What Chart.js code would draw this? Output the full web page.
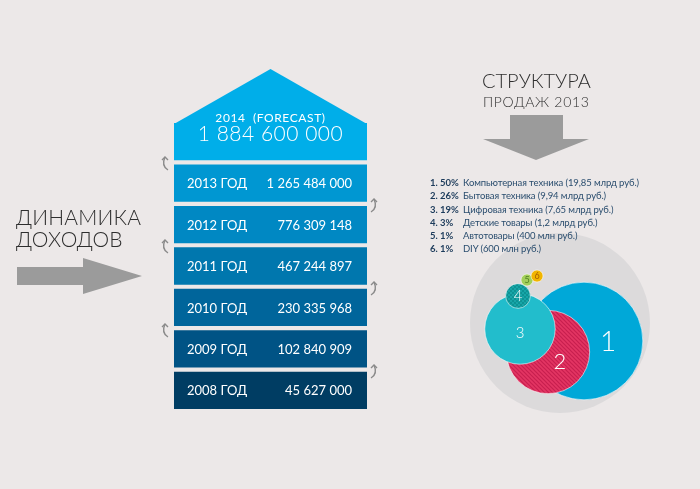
<!DOCTYPE html>
<html>
<head>
<meta charset="utf-8">
<script src="https://cdn.jsdelivr.net/npm/chart.js@4.4.0/dist/chart.umd.min.js"></script>
<style>
  body { margin: 0; background: #ece8e8; }
  #wrap { position: relative; width: 700px; height: 489px; overflow: hidden; font-family: Lato, "Open Sans", sans-serif; }
  canvas { position: absolute; left: 0; top: 0; }
  .title { position: absolute; color: #2e2e2e; font-weight: 300; white-space: nowrap; }
  #legend { position: absolute; left: 430px; top: 176px; font-size: 9.5px; line-height: 13.3px; color: #2a4d6e; white-space: nowrap; letter-spacing: -0.1px; }
  #legend b { display: inline-block; width: 33px; color: #1b3a5a; font-weight: 700; letter-spacing: 0; }
</style>
</head>
<body>
<div id="wrap">
  <canvas id="house" width="700" height="489"></canvas>
  <canvas id="bubbles" width="700" height="489"></canvas>
  <div class="title" style="left:16px; top:206px; font-size:21px; line-height:22px; letter-spacing:0.2px">ДИНАМИКА<br>ДОХОДОВ</div>
  <div class="title" style="left:482px; top:70px; font-size:20px; line-height:20px; letter-spacing:0">СТРУКТУРА</div>
  <div class="title" style="left:483px; top:95px; font-size:14px; line-height:14px; letter-spacing:0.7px">ПРОДАЖ 2013</div>
  <div id="legend"></div>
</div>
<script>
// income by year (top row is the forecast)
const years = ['2014', '2013', '2012', '2011', '2010', '2009', '2008'];
const income = [1884600000, 1265484000, 776309148, 467244897, 230335968, 102840909, 45627000];

// sales structure 2013
const shares = [50, 26, 19, 3, 1, 1];
const categories = ['Компьютерная техника', 'Бытовая техника', 'Цифровая техника', 'Детские товары', 'Автотовары', 'DIY'];
const amounts = ['19,85 млрд руб.', '9,94 млрд руб.', '7,65 млрд руб.', '1,2 млрд руб.', '400 млн руб.', '600 млн руб.'];

const rowColors = ['#00aee9', '#0097d2', '#0088c3', '#0077ae', '#00659b', '#005385', '#003d63'];
const bubbleColors = ['#00a8d8', '#e02c5c', '#22bdcc', '#14a2a4', '#a3cf5a', '#f1b500'];
const labelColors = ['#fff', '#fff', '#fff', '#fff', '#4f7f22', '#a85f00'];

// where each bubble sits in the cluster, and its label offset / font size
const bubbleLayout = [
  { x: 584, y: 341, lx: 24, ly: 1, font: 28 },
  { x: 548, y: 352, lx: 12, ly: 10, font: 22 },
  { x: 520, y: 329, lx: 0, ly: 4, font: 15 },
  { x: 518, y: 296, lx: 0, ly: 0, font: 15 },
  { x: 527, y: 280, lx: 0, ly: 0, font: 9 },
  { x: 537, y: 276, lx: 0, ly: 0, font: 9 }
];

const fmt = v => String(v).replace(/\B(?=(\d{3})+(?!\d))/g, ' ');
const radius = s => 8.7 * Math.sqrt(s) - 2.7;

function stripes(base, line) {
  const c = document.createElement('canvas');
  c.width = c.height = 4;
  const g = c.getContext('2d');
  g.fillStyle = base;
  g.fillRect(0, 0, 4, 4);
  g.strokeStyle = line;
  g.lineWidth = 1.2;
  g.beginPath();
  g.moveTo(-1, -1); g.lineTo(5, 5);
  g.moveTo(-1, 3); g.lineTo(1, 5);
  g.moveTo(3, -1); g.lineTo(5, 1);
  g.stroke();
  return g.createPattern(c, 'repeat');
}

function checker(base, dot) {
  const c = document.createElement('canvas');
  c.width = c.height = 4;
  const g = c.getContext('2d');
  g.fillStyle = base;
  g.fillRect(0, 0, 4, 4);
  g.fillStyle = dot;
  g.fillRect(0, 0, 2, 2);
  g.fillRect(2, 2, 2, 2);
  return g.createPattern(c, 'repeat');
}

const bubbleFills = bubbleColors.slice();
bubbleFills[1] = stripes('#e33563', '#c81f4f');
bubbleFills[3] = checker('#17a6a8', '#0e9294');

const housePlugin = {
  id: 'house',
  afterDatasetsDraw(chart) {
    const ctx = chart.ctx;
    const bars = chart.getDatasetMeta(0).data;
    const roof = bars[0];
    const top = roof.y - roof.height / 2;
    const left = roof.base, right = roof.x, mid = (left + right) / 2;
    ctx.save();
    ctx.fillStyle = rowColors[0];
    ctx.beginPath();
    ctx.moveTo(left, top + 1);
    ctx.lineTo(mid, top - 54);
    ctx.lineTo(right, top + 1);
    ctx.closePath();
    ctx.fill();

    ctx.fillStyle = '#fff';
    ctx.textAlign = 'center';
    ctx.textBaseline = 'alphabetic';
    ctx.font = '12px Lato';
    ctx.letterSpacing = '0.6px';
    ctx.fillText(years[0] + '  (FORECAST)', mid, top - 1);
    ctx.font = '300 21px Lato';
    ctx.letterSpacing = '0.5px';
    ctx.fillText(fmt(income[0]), mid, top + 18);

    ctx.letterSpacing = '0px';
    ctx.font = '13px Lato';
    ctx.textBaseline = 'middle';
    bars.forEach((b, i) => {
      if (i === 0) return;
      ctx.textAlign = 'left';
      ctx.fillText(years[i] + ' ГОД', left + 13, b.y + 1);
      ctx.textAlign = 'right';
      ctx.fillText(fmt(income[i]), right - 15, b.y + 1);
    });
    ctx.restore();
  }
};

new Chart(document.getElementById('house').getContext('2d'), {
  type: 'bar',
  data: {
    labels: years,
    datasets: [{
      data: years.map(() => [0, 1]),
      backgroundColor: rowColors,
      borderWidth: 0,
      borderSkipped: false,
      categoryPercentage: 1,
      barPercentage: 0.9
    }]
  },
  options: {
    indexAxis: 'y',
    responsive: false,
    animation: false,
    events: [],
    layout: { padding: { left: 174, right: 333, top: 121, bottom: 78 } },
    plugins: { legend: { display: false }, tooltip: { enabled: false } },
    scales: {
      x: { min: 0, max: 1, display: false },
      y: { display: false }
    }
  },
  plugins: [housePlugin]
});

function hook(ctx, x, y, flip) {
  ctx.save();
  ctx.translate(x, y);
  if (flip) ctx.scale(-1, 1);
  ctx.strokeStyle = '#8a8a8a';
  ctx.lineWidth = 1.4;
  ctx.beginPath();
  ctx.moveTo(4, 7);
  ctx.quadraticCurveTo(-3, 3, 1, -6);
  ctx.stroke();
  ctx.beginPath();
  ctx.moveTo(-2, -3);
  ctx.lineTo(1, -6);
  ctx.lineTo(4, -3);
  ctx.stroke();
  ctx.restore();
}

const decorPlugin = {
  id: 'decor',
  beforeDatasetsDraw(chart) {
    const ctx = chart.ctx;
    ctx.save();
    ctx.fillStyle = '#9b9b9b';
    ctx.beginPath();
    [[17, 267], [83, 267], [83, 258], [142, 276], [83, 294], [83, 285], [17, 285]]
      .forEach((p, i) => i ? ctx.lineTo(p[0], p[1]) : ctx.moveTo(p[0], p[1]));
    ctx.closePath();
    ctx.fill();
    ctx.beginPath();
    [[510, 115], [563, 115], [563, 139], [589, 139], [536, 160], [483, 139], [510, 139]]
      .forEach((p, i) => i ? ctx.lineTo(p[0], p[1]) : ctx.moveTo(p[0], p[1]));
    ctx.closePath();
    ctx.fill();
    ctx.restore();
    [163, 246, 330].forEach(y => hook(ctx, 164, y, false));
    [205, 288, 371].forEach(y => hook(ctx, 375, y, true));
  },
  afterDatasetsDraw(chart) {
    const ctx = chart.ctx;
    const pts = chart.getDatasetMeta(0).data;
    ctx.save();
    ctx.textAlign = 'center';
    ctx.textBaseline = 'middle';
    pts.forEach((p, i) => {
      const l = bubbleLayout[i];
      ctx.fillStyle = labelColors[i];
      ctx.font = (l.font < 10 ? '400 ' : '300 ') + l.font + 'px Lato';
      ctx.fillText(String(i + 1), p.x + l.lx, p.y + l.ly);
    });
    ctx.restore();
  }
};

new Chart(document.getElementById('bubbles').getContext('2d'), {
  type: 'bubble',
  data: {
    datasets: [{
      data: shares.map((s, i) => ({ x: bubbleLayout[i].x, y: bubbleLayout[i].y, r: radius(s) })),
      backgroundColor: bubbleFills,
      borderColor: 'rgba(255,255,255,0.55)',
      borderWidth: 1,
      clip: false
    }, {
      // pale backdrop behind the cluster
      data: [{ x: 560, y: 323, r: 90 }],
      backgroundColor: '#dcdadb',
      borderWidth: 0,
      clip: false
    }]
  },
  options: {
    responsive: false,
    animation: false,
    events: [],
    layout: { padding: 0, autoPadding: false },
    plugins: { legend: { display: false }, tooltip: { enabled: false } },
    scales: {
      x: { type: 'linear', min: 0, max: 700, display: false },
      y: { type: 'linear', min: 0, max: 489, reverse: true, display: false }
    }
  },
  plugins: [decorPlugin]
});

document.getElementById('legend').innerHTML = categories
  .map((c, i) => '<div><b>' + (i + 1) + '. ' + shares[i] + '%</b>' + c + ' (' + amounts[i] + ')</div>')
  .join('');
</script>
</body>
</html>
